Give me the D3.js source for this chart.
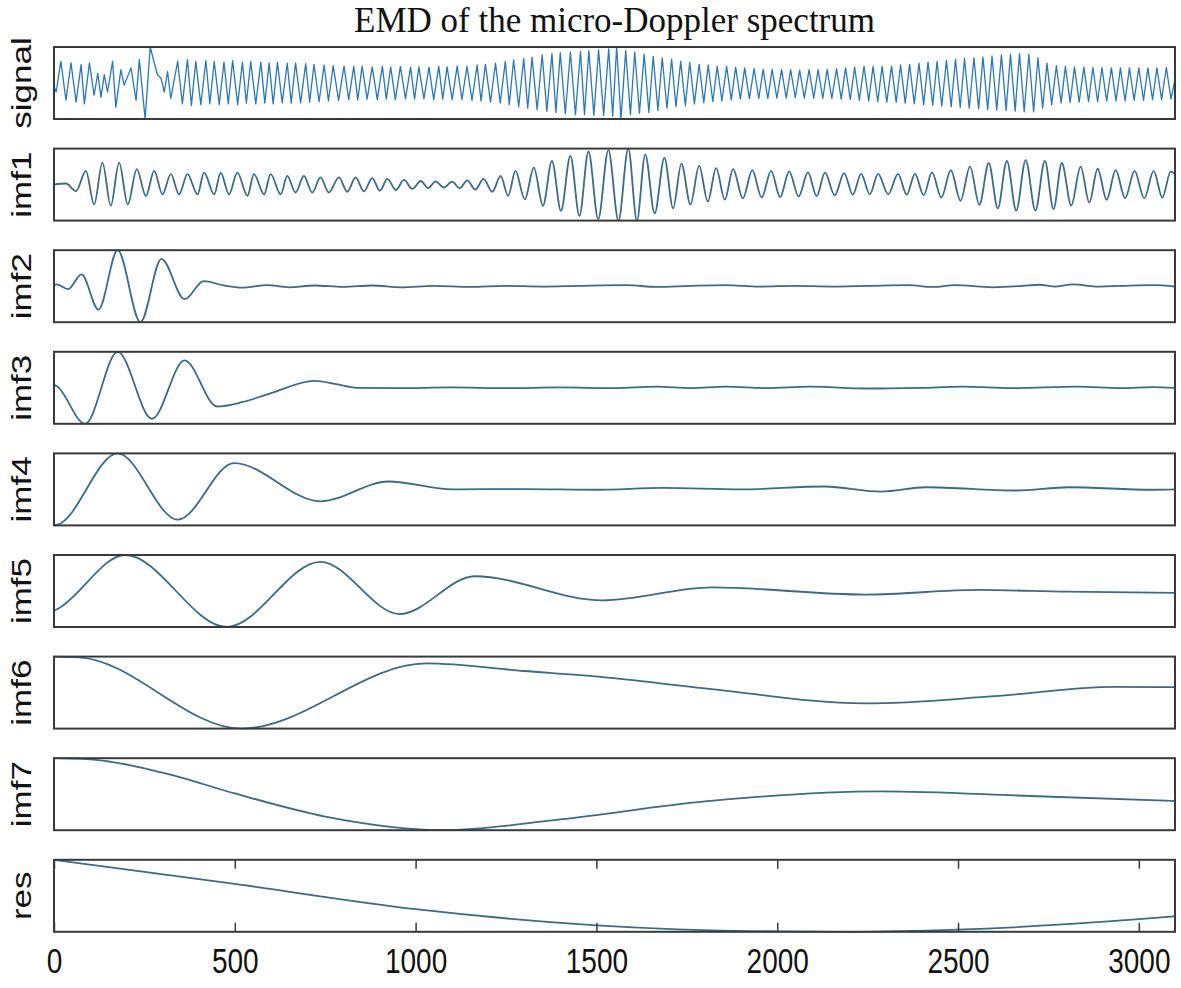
<!DOCTYPE html>
<html>
<head>
<meta charset="utf-8">
<script src="https://cdn.jsdelivr.net/npm/d3@7"></script>
<style>
  body { margin: 0; background: #fff; }
  svg { display: block; }
</style>
</head>
<body>
<div id="chart"></div>
<script>
// values: [sample index, amplitude]; each panel is scaled to its own extent
const xTicks = [0, 500, 1000, 1500, 2000, 2500, 3000];
const panelNames = ["signal", "imf1", "imf2", "imf3", "imf4", "imf5", "imf6", "imf7", "res"];

const signal = [
  [0,-0.1],[6,-0.25],[19,0.6],[33,-0.48],[47,0.56],[61,-0.53],[75,0.51],[84,-0.58],[98,0.56],[111,-0.34],
  [121,0.27],[130,-0.39],[139,0.23],[148,-0.25],[162,0.6],[171,-0.67],[185,0.37],[194,-0.06],[213,0.42],[227,-0.48],
  [236,0.65],[252,-1.0],[266,1.0],[286,0.23],[296,0.13],[305,-0.25],[314,0.32],[323,-0.43],[342,0.6],[355,-0.58],
  [369,0.65],[380,-0.62],[392,0.6],[406,-0.6],[420,0.62],[431,-0.58],[443,0.6],[457,-0.6],[470,0.58],[482,-0.58],
  [494,0.62],[508,-0.6],[521,0.58],[532,-0.56],[544,0.6],[558,-0.58],[572,0.58],[583,-0.56],[595,0.56],[606,-0.58],
  [618,0.58],[631,-0.55],[645,0.55],[656,-0.56],[668,0.56],[682,-0.55],[696,0.54],[707,-0.53],[719,0.52],[733,-0.52],
  [747,0.5],[759,-0.5],[772,0.48],[787,-0.48],[802,0.47],[815,-0.46],[829,0.46],[840,-0.47],[852,0.47],[866,-0.45],
  [880,0.45],[894,-0.46],[908,0.46],[919,-0.45],[931,0.45],[944,-0.46],[958,0.46],[972,-0.44],[986,0.44],[997,-0.45],
  [1009,0.45],[1023,-0.44],[1037,0.44],[1050,-0.46],[1064,0.46],[1075,-0.45],[1087,0.45],[1101,-0.46],[1115,0.47],[1128,-0.46],
  [1142,0.46],[1156,-0.48],[1170,0.5],[1181,-0.5],[1193,0.52],[1207,-0.53],[1221,0.55],[1234,-0.56],[1248,0.6],[1259,-0.6],
  [1271,0.64],[1285,-0.66],[1299,0.68],[1310,-0.7],[1322,0.72],[1336,-0.74],[1350,0.78],[1363,-0.78],[1377,0.82],[1388,-0.82],
  [1400,0.84],[1414,-0.86],[1428,0.86],[1442,-0.88],[1456,0.88],[1467,-0.88],[1479,0.9],[1493,-0.9],[1506,0.92],[1520,-0.9],
  [1534,0.95],[1545,-0.92],[1556,1.0],[1568,-1.0],[1581,0.9],[1594,-0.88],[1606,0.86],[1619,-0.84],[1632,0.8],[1645,-0.82],
  [1657,0.74],[1670,-0.76],[1682,0.7],[1695,-0.7],[1708,0.66],[1720,-0.66],[1733,0.6],[1746,-0.62],[1758,0.57],[1771,-0.58],
  [1784,0.52],[1797,-0.55],[1809,0.5],[1822,-0.52],[1834,0.47],[1847,-0.5],[1860,0.46],[1873,-0.47],[1885,0.44],[1898,-0.45],
  [1910,0.42],[1923,-0.44],[1936,0.4],[1949,-0.43],[1961,0.38],[1974,-0.43],[1986,0.38],[1999,-0.42],[2012,0.37],[2025,-0.42],
  [2037,0.37],[2050,-0.41],[2062,0.36],[2075,-0.42],[2088,0.37],[2101,-0.42],[2113,0.37],[2126,-0.43],[2138,0.38],[2151,-0.43],
  [2164,0.4],[2177,-0.45],[2189,0.42],[2202,-0.46],[2214,0.44],[2227,-0.48],[2240,0.46],[2253,-0.5],[2265,0.46],[2278,-0.52],
  [2290,0.46],[2303,-0.53],[2316,0.47],[2329,-0.54],[2341,0.5],[2354,-0.56],[2366,0.52],[2379,-0.58],[2392,0.55],[2405,-0.6],
  [2417,0.58],[2430,-0.62],[2442,0.6],[2455,-0.64],[2468,0.63],[2481,-0.66],[2493,0.66],[2506,-0.68],[2518,0.68],[2531,-0.7],
  [2544,0.7],[2557,-0.72],[2569,0.72],[2582,-0.74],[2594,0.75],[2607,-0.75],[2620,0.78],[2633,-0.76],[2645,0.8],[2658,-0.78],
  [2670,0.82],[2683,-0.8],[2696,0.8],[2709,-0.8],[2721,0.7],[2734,-0.7],[2746,0.55],[2759,-0.6],[2772,0.48],[2785,-0.55],
  [2797,0.46],[2810,-0.54],[2822,0.45],[2835,-0.53],[2848,0.44],[2861,-0.52],[2873,0.43],[2886,-0.52],[2898,0.43],[2911,-0.5],
  [2924,0.42],[2937,-0.5],[2949,0.42],[2962,-0.5],[2974,0.42],[2987,-0.48],[3000,0.42],[3013,-0.48],[3025,0.42],[3038,-0.46],
  [3050,0.42],[3063,-0.46],[3076,0.43],[3089,-0.45],[3100,0.1]
];

const imf1 = [
  [0,0],[33,0.03],[61,-0.18],[88,0.38],[111,-0.55],[134,0.61],[157,-0.59],[180,0.61],[204,-0.55],[229,0.43],
  [254,-0.32],[277,0.38],[300,-0.27],[323,0.29],[346,-0.27],[369,0.29],[397,-0.27],[415,0.33],[443,-0.27],[461,0.33],
  [484,-0.27],[507,0.33],[535,-0.31],[553,0.29],[581,-0.27],[599,0.29],[627,-0.27],[645,0.24],[668,-0.22],[691,0.24],
  [714,-0.22],[737,0.2],[760,-0.22],[788,0.2],[811,-0.2],[834,0.2],[857,-0.19],[880,0.18],[901,-0.17],[922,0.16],
  [945,-0.15],[968,0.13],[991,-0.12],[1014,0.1],[1035,-0.1],[1055,0.09],[1078,-0.08],[1101,0.08],[1122,-0.1],[1143,0.12],
  [1165,-0.14],[1188,0.16],[1212,-0.2],[1235,0.24],[1256,-0.31],[1276,0.38],[1302,-0.41],[1327,0.47],[1352,-0.59],[1377,0.66],
  [1402,-0.73],[1428,0.8],[1453,-0.87],[1478,0.92],[1505,-0.96],[1533,0.96],[1561,-1.0],[1588,1.0],[1612,-1.0],[1635,0.84],
  [1661,-0.8],[1688,0.74],[1712,-0.66],[1735,0.58],[1760,-0.55],[1784,0.52],[1808,-0.47],[1831,0.46],[1855,-0.42],[1878,0.43],
  [1905,-0.38],[1931,0.4],[1957,-0.36],[1983,0.38],[2008,-0.35],[2033,0.37],[2059,-0.33],[2085,0.34],[2109,-0.32],[2132,0.33],
  [2159,-0.3],[2185,0.32],[2209,-0.28],[2232,0.3],[2256,-0.27],[2279,0.3],[2307,-0.27],[2334,0.3],[2358,-0.28],[2381,0.3],
  [2405,-0.3],[2428,0.34],[2454,-0.36],[2480,0.4],[2507,-0.45],[2533,0.5],[2559,-0.56],[2585,0.6],[2610,-0.66],[2635,0.66],
  [2661,-0.72],[2687,0.68],[2714,-0.72],[2740,0.66],[2764,-0.68],[2787,0.6],[2813,-0.58],[2839,0.5],[2863,-0.5],[2886,0.44],
  [2911,-0.42],[2936,0.4],[2962,-0.38],[2988,0.38],[3015,-0.38],[3041,0.38],[3065,-0.36],[3088,0.36],[3100,0.3]
];

const imf2 = [
  [0,0.02],[7,0.05],[39,-0.08],[76,0.33],[123,-0.65],[176,1.0],[239,-1.0],[297,0.76],[361,-0.36],[414,0.14],
  [470,0.02],[520,-0.04],[590,0.03],[650,-0.03],[720,0.02],[800,-0.02],[880,0.02],[960,-0.03],[1050,0.01],[1150,-0.02],
  [1250,0.01],[1350,-0.01],[1450,0.01],[1583,0.03],[1667,-0.02],[1760,0.01],[1857,0.03],[1950,-0.01],[2050,0.01],[2150,-0.01],
  [2250,0.01],[2364,0.03],[2430,-0.02],[2491,0.03],[2596,-0.03],[2680,0.01],[2723,0.04],[2770,-0.01],[2819,0.05],[2880,-0.01],
  [2950,0.01],[3041,0.03],[3100,-0.01]
];

const imf3 = [
  [0,0.08],[7,0.05],[86,-1.0],[176,1.0],[271,-0.86],[361,0.76],[451,-0.52],[520,-0.4],[600,-0.15],[720,0.19],
  [780,0.1],[837,0.0],[950,-0.01],[1100,0.01],[1250,-0.01],[1400,0.01],[1550,-0.01],[1667,0.03],[1760,-0.01],[1857,0.03],
  [1970,-0.01],[2091,0.03],[2250,-0.02],[2400,0.0],[2513,0.03],[2650,-0.01],[2830,0.03],[2950,-0.01],[3040,0.02],[3100,0.0]
];

const imf4 = [
  [0,-1.0],[10,-0.98],[176,1.0],[342,-0.84],[498,0.73],[737,-0.33],[925,0.22],[1102,0.0],[1300,0.01],[1500,-0.01],
  [1684,0.04],[1900,0.0],[2131,0.08],[2287,-0.06],[2411,0.06],[2661,-0.03],[2806,0.06],[3035,-0.01],[3100,0.0]
];

const imf5 = [
  [0,-0.55],[10,-0.5],[197,1.0],[478,-1.0],[737,0.81],[956,-0.64],[1164,0.41],[1517,-0.26],[1819,0.1],[2245,-0.1],
  [2557,0.03],[2800,-0.02],[3100,-0.05]
];

const imf6 = [
  [0,1.0],[70,0.98],[519,-1.0],[1029,0.81],[1300,0.6],[1517,0.43],[1800,0.12],[2245,-0.3],[2600,-0.1],[2932,0.16],
  [3100,0.15]
];

const imf7 = [
  [0,1.0],[100,0.97],[300,0.6],[500,0.02],[750,-0.62],[1081,-1.0],[1400,-0.7],[1800,-0.2],[2287,0.08],[2700,-0.05],
  [3100,-0.19]
];

const res = [
  [0,1.0],[500,0.33],[1000,-0.37],[1500,-0.82],[2000,-0.99],[2200,-1.0],[2500,-0.94],[3000,-0.65],[3100,-0.57]
];

const series = [signal, imf1, imf2, imf3, imf4, imf5, imf6, imf7, res];

const width = 1181, height = 988;
const margin = { left: 54, right: 6 };
const panelTop = 47, panelStep = 101.6, panelH = 72;

const svg = d3.select("#chart").append("svg")
    .attr("width", width)
    .attr("height", height);

const x = d3.scaleLinear()
    .domain([0, 3100])
    .range([margin.left, width - margin.right]);

svg.append("text")
    .attr("x", (margin.left + width - margin.right) / 2)
    .attr("y", 32)
    .attr("text-anchor", "middle")
    .style("font-family", "'Liberation Serif', 'Times New Roman', serif")
    .style("font-size", "35px")
    .style("fill", "#111")
    .text("EMD of the micro-Doppler spectrum");

series.forEach(function (data, i) {
    const top = panelTop + i * panelStep;
    const y = d3.scaleLinear()
        .domain(d3.extent(data, function (d) { return d[1]; }))
        .range([top + panelH, top]);

    const g = svg.append("g");

    g.append("clipPath")
        .attr("id", "clip" + i)
        .append("rect")
        .attr("x", margin.left)
        .attr("y", top - 1)
        .attr("width", x.range()[1] - margin.left)
        .attr("height", panelH + 2);

    const line = d3.line()
        .x(function (d) { return x(d[0]); })
        .y(function (d) { return y(d[1]); })
        .curve(i === 0 ? d3.curveLinear : d3.curveMonotoneX);

    g.append("path")
        .datum(data)
        .attr("clip-path", "url(#clip" + i + ")")
        .attr("fill", "none")
        .attr("stroke", i === 0 ? "#2a78b8" : "#3a6b88")
        .attr("stroke-width", i === 0 ? 1.3 : 1.8)
        .attr("stroke-linejoin", "round")
        .attr("d", line);

    g.append("rect")
        .attr("x", margin.left)
        .attr("y", top)
        .attr("width", x.range()[1] - margin.left)
        .attr("height", panelH)
        .attr("fill", "none")
        .attr("stroke", "#3a3a3a")
        .attr("stroke-width", 2);

    // rotated panel name, a little stretched like the source figure
    g.append("text")
        .attr("transform", "translate(31," + (top + panelH / 2) + ") rotate(-90) scale(1.25,1)")
        .attr("text-anchor", "middle")
        .style("font-family", "'Liberation Sans', Arial, sans-serif")
        .style("font-size", "28px")
        .style("fill", "#111")
        .text(panelNames[i]);

    if (i === series.length - 1) {
        const bottom = g.append("g")
            .attr("transform", "translate(0," + (top + panelH) + ")")
            .call(d3.axisBottom(x).tickValues(xTicks).tickSizeInner(-9).tickSizeOuter(0).tickFormat(d3.format("d")));
        bottom.select(".domain").remove();
        bottom.selectAll("line").attr("stroke", "#3a3a3a").attr("stroke-width", 1.5);
        bottom.selectAll("text")
            .attr("y", null)
            .attr("dy", null)
            .attr("transform", "translate(0,41) scale(1,1.25)")
            .style("font-family", "'Liberation Sans', Arial, sans-serif")
            .style("font-size", "28px")
            .style("fill", "#111");

        const topAxis = g.append("g")
            .attr("transform", "translate(0," + top + ")")
            .call(d3.axisTop(x).tickValues(xTicks).tickSizeInner(-9).tickSizeOuter(0).tickFormat(""));
        topAxis.select(".domain").remove();
        topAxis.selectAll("line").attr("stroke", "#3a3a3a").attr("stroke-width", 1.5);
    }
});
</script>
</body>
</html>
